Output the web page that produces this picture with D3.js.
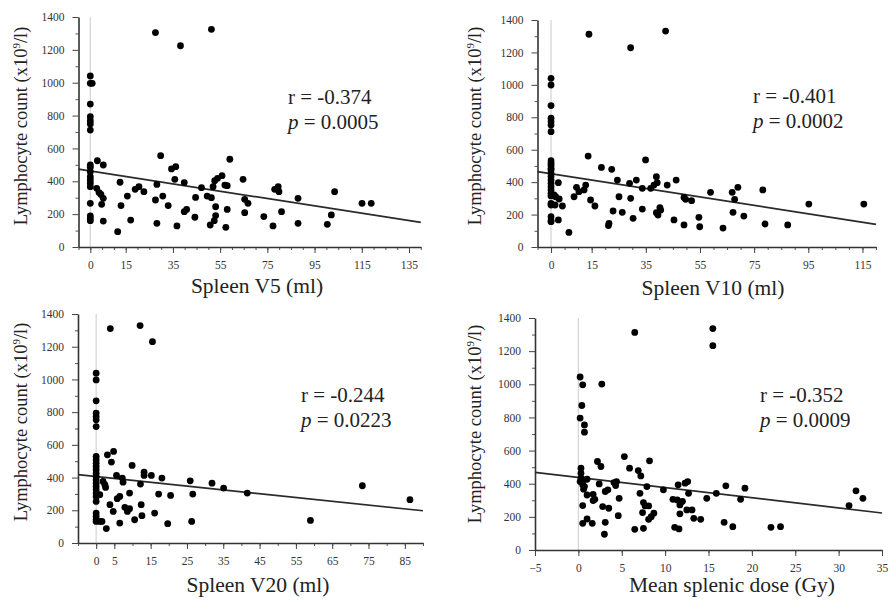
<!DOCTYPE html>
<html>
<head>
<meta charset="utf-8">
<script src="https://cdn.jsdelivr.net/npm/d3@7"></script>
<style>
  body { margin: 0; background: #fff; }
  svg { display: block; }
  text { font-family: "Liberation Serif", "Times New Roman", serif; }
</style>
</head>
<body>
<svg id="chart" width="892" height="604"></svg>
<script>
// lymphocyte count vs spleen dose parameters
const v5Points = [
  [0,1041],[0,996],[0.8,996],[0,870],[0,793],[0,769],[0,749],[0,712],[0,499],[0,485],[0,458],[0,428],
  [0,408],[0,388],[0,367],[0,266],[0,189],[0,174],[0,160],
  [3.0,525],[5.5,499],[2.7,357],[3.7,331],[4.5,320],[5.5,296],[4.8,260],[5.5,158],[11.6,93],[12.6,394],
  [13.0,252],[15.7,310],[17.1,164],[19.0,351],[20.6,367],[22.7,337],[27.6,1305],[28.2,381],[27.6,286],
  [28.2,144],[29.8,556],[30.7,310],[33.0,252],[34.4,475],[36.2,489],[35.8,412],[36.7,128],[38.2,1225],
  [39.8,392],[39.8,215],[40.8,229],[44.3,181],[44.6,302],[47.1,361],[49.5,310],[51.3,300],[50.8,134],
  [51.3,1325],[52.0,367],[52.7,404],[53.9,418],[55.8,434],[53.1,245],[53.1,191],[52.5,160],[57.0,377],
  [58.0,373],[58.0,229],[57.4,120],[59.1,534],[64.7,412],[65.4,290],[66.8,266],[65.4,209],[73.5,185],
  [77.4,128],[78.1,351],[79.6,367],[79.9,337],[81.0,215],[88.0,296],[88.0,144],[100.4,138],[102.1,195],
  [103.5,337],[115.1,266],[119.0,266]
];
const v10Points = [
  [0,1040],[0,999],[0,872],[0,794],[0,773],[0,752],[0,711],[0,532],[0,516],[0,502],[0,485],[0,475],
  [0,454],[0,434],[0,413],[0,393],[0,372],[0,352],[0,331],[0,315],[0,269],[0,259],[0,187],[0,162],[0,156],
  [1.1,321],[1.7,310],[2.7,397],[3.0,296],[1.5,259],[2.7,167],[4.2,253],[6.6,90],[8.5,310],[9.4,368],
  [10.3,341],[12.2,352],[12.8,382],[14.0,1312],[13.7,561],[14.6,290],[16.2,253],[18.6,491],[22.4,479],
  [21.4,146],[21.2,132],[22.9,222],[24.5,413],[25.1,310],[26.3,214],[29.0,393],[29.4,1229],[29.4,300],
  [30.3,177],[31.5,413],[33.7,362],[33.7,234],[34.9,537],[36.8,362],[38.0,382],[38.9,434],[39.2,397],
  [38.9,212],[39.5,197],[40.2,243],[40.5,228],[42.3,1332],[42.9,382],[45.4,167],[46.2,413],[49.1,306],
  [49.7,294],[49.1,136],[51.9,286],[54.6,183],[54.9,125],[58.9,337],[63.5,117],[66.9,337],[67.8,294],
  [67.2,214],[69.0,368],[71.2,191],[78.2,352],[79.0,142],[87.4,136],[95.2,265],[115.5,265]
];
const v20Points = [
  [0,1038],[0,997],[0,869],[0,794],[0,773],[0,753],[0,712],[0,529],[0,509],[0,488],[0,468],[0,448],
  [0,427],[0,407],[0,387],[0,366],[0,346],[0,326],[0,305],[0,285],[0,254],[0,183],[0,163],[0,142],[0,132],
  [1.0,295],[1.0,132],[1.6,132],[1.9,376],[2.4,356],[2.6,340],[3.1,539],[4.2,495],[4.8,560],[3.9,1311],
  [5.6,413],[2.8,88],[3.8,234],[4.7,193],[5.8,271],[6.5,285],[6.5,122],[7.2,397],[7.4,372],[7.9,218],
  [8.6,193],[9.2,210],[9.2,305],[9.9,474],[10.6,142],[12.2,360],[12.1,1329],[12.4,234],[12.6,167],
  [13.2,433],[13.2,413],[15.2,413],[15.5,1231],[16.1,183],[17.2,299],[18.1,397],[19.7,118],[20.5,291],
  [25.9,380],[26.6,299],[26.3,132],[31.9,366],[35.1,336],[41.6,305],[59.0,138],[73.3,350],[86.4,265]
];
const msdPoints = [
  [0.2,1044],[0.5,997],[0.4,872],[0.2,796],[0.7,755],[0.7,711],[6.5,1313],[2.7,1001],[15.5,1336],[15.5,1233],
  [0.3,494],[0.3,463],[0.3,433],[0.2,413],[0.5,393],[0.7,383],[1.0,427],[0.6,423],[1.0,332],[0.6,367],
  [0.5,268],[0.5,161],[1.0,187],[1.6,161],[1.7,336],[1.9,306],[1.7,298],[2.2,534],[2.6,504],[2.4,399],
  [2.8,262],[3.1,353],[3.4,363],[3.5,252],[3.1,167],[3.0,95],[4.1,407],[4.4,413],[4.3,389],[4.7,312],
  [4.6,207],[5.3,564],[5.9,494],[6.5,125],[6.9,479],[7.1,342],[7.2,447],[7.5,286],[7.4,226],[7.5,131],
  [7.7,266],[7.9,383],[8.1,266],[8.2,538],[8.1,185],[8.4,201],[8.7,222],[9.8,363],[10.9,306],[11.4,302],
  [11.5,393],[11.8,286],[11.7,272],[12.0,294],[11.7,218],[12.3,403],[12.6,413],[12.7,342],[12.5,242],
  [13.1,242],[13.3,191],[14.1,185],[11.1,137],[11.6,127],[14.8,312],[15.9,342],[17.0,387],[16.8,167],
  [17.8,141],[18.7,306],[19.2,373],[22.2,137],[23.3,141],[31.2,268],[32.0,357],[32.8,312]
];

// fitted lines: [intercept, slope]
const fits = [[463, -2.24], [452, -2.6], [406, -2.32], [438, -6.14]];
const rLabels = ["r = -0.374", "r = -0.401", "r = -0.244", "r = -0.352"];
const pLabels = ["0.0005", "0.0002", "0.0223", "0.0009"];
const xTitles = ["Spleen V5 (ml)", "Spleen V10 (ml)", "Spleen V20 (ml)", "Mean splenic dose (Gy)"];
const xDomains = [[-5, 140], [-5, 120], [-5, 90], [-5, 35]];
const xTickVals = [
  [0, 15, 35, 55, 75, 95, 115, 135],
  [0, 15, 35, 55, 75, 95, 115],
  [0, 5, 15, 25, 35, 45, 55, 65, 75, 85],
  [-5, 0, 5, 10, 15, 20, 25, 30, 35]
];
const yTickVals = [0, 200, 400, 600, 800, 1000, 1200, 1400];

// panel layout
const panels = [
  { pts: v5Points,  x0: 78.5, x1: 420.8, yb: 247, yt: 17,  yTx: 27,  yTy: 126, xTx: 257, xTy: 293, ax: 288, ay: 104 },
  { pts: v10Points, x0: 537.5, x1: 876, yb: 247, yt: 20,  yTx: 481, yTy: 126, xTx: 713, xTy: 295, ax: 753, ay: 103 },
  { pts: v20Points, x0: 78,  x1: 423,   yb: 543, yt: 314, yTx: 27,  yTy: 422, xTx: 258, xTy: 592, ax: 301, ay: 402 },
  { pts: msdPoints, x0: 535, x1: 882,   yb: 550, yt: 318, yTx: 481, yTy: 424, xTx: 732, xTy: 592, ax: 760, ay: 402 }
];

const svg = d3.select('#chart');
const ink = '#222';
const serif = '"Liberation Serif", "Times New Roman", serif';

panels.forEach((p, i) => {
  const x = d3.scaleLinear().domain(xDomains[i]).range([p.x0, p.x1]);
  const y = d3.scaleLinear().domain([0, 1400]).range([p.yb, p.yt]);
  const g = svg.append('g');

  // zero reference line
  g.append('line')
    .attr('x1', x(0)).attr('x2', x(0))
    .attr('y1', y(1400)).attr('y2', y(0))
    .attr('stroke', '#d4d4d4').attr('stroke-width', 1.2);

  // minor ticks
  const minorX = d3.range(xDomains[i][0], xDomains[i][1] + 0.01, 5);
  g.append('g')
    .attr('transform', `translate(0,${p.yb})`)
    .call(d3.axisBottom(x).tickValues(minorX).tickSize(3).tickFormat('').tickSizeOuter(0))
    .call(a => a.select('.domain').remove())
    .call(a => a.selectAll('line').attr('stroke', '#555'));
  g.append('g')
    .attr('transform', `translate(${p.x0},0)`)
    .call(d3.axisLeft(y).tickValues(d3.range(100, 1400, 200)).tickSize(3).tickFormat('').tickSizeOuter(0))
    .call(a => a.select('.domain').remove())
    .call(a => a.selectAll('line').attr('stroke', '#555'));

  // main axes
  const xa = g.append('g')
    .attr('transform', `translate(0,${p.yb})`)
    .call(d3.axisBottom(x).tickValues(xTickVals[i]).tickFormat(d3.format('d'))
      .tickSize(6).tickPadding(8).tickSizeOuter(0));
  const ya = g.append('g')
    .attr('transform', `translate(${p.x0},0)`)
    .call(d3.axisLeft(y).tickValues(yTickVals).tickFormat(d3.format('d'))
      .tickSize(6).tickPadding(8).tickSizeOuter(0));
  [xa, ya].forEach(a => {
    a.attr('font-family', null);
    a.select('.domain').attr('stroke', '#333').attr('stroke-width', 1.6);
    a.selectAll('.tick line').attr('stroke', '#444');
    a.selectAll('text').style('font-family', serif)
      .style('font-size', '11.5px').attr('fill', '#333');
  });

  // regression line
  const [b0, b1] = fits[i];
  const xd = xDomains[i];
  g.append('line')
    .attr('x1', x(xd[0])).attr('y1', y(b0 + b1 * xd[0]))
    .attr('x2', x(xd[1])).attr('y2', y(b0 + b1 * xd[1]))
    .attr('stroke', '#2a2a2a').attr('stroke-width', 1.7);

  // points
  g.append('g').selectAll('circle')
    .data(p.pts)
    .enter()
    .append('circle')
    .attr('cx', d => x(d[0]))
    .attr('cy', d => y(d[1]))
    .attr('r', 3.4)
    .attr('fill', '#000');

  // y title
  const yt = g.append('text')
    .attr('transform', `translate(${p.yTx},${p.yTy}) rotate(-90)`)
    .attr('text-anchor', 'middle')
    .attr('font-size', 18.5)
    .attr('fill', ink);
  yt.append('tspan').text('Lymphocyte count (x10');
  yt.append('tspan').attr('font-size', 11).attr('dy', -7).text('9');
  yt.append('tspan').attr('dy', 7).text('/l)');

  // x title
  g.append('text')
    .attr('x', p.xTx).attr('y', p.xTy)
    .attr('text-anchor', 'middle')
    .attr('font-size', 21.5)
    .attr('fill', ink)
    .text(xTitles[i]);

  // stats
  g.append('text')
    .attr('x', p.ax).attr('y', p.ay)
    .attr('font-size', 21)
    .attr('fill', ink)
    .text(rLabels[i]);
  const pt = g.append('text')
    .attr('x', p.ax).attr('y', p.ay + 25)
    .attr('font-size', 21)
    .attr('fill', ink);
  pt.append('tspan').attr('font-style', 'italic').text('p');
  pt.append('tspan').text(' = ' + pLabels[i]);
});
</script>
</body>
</html>
